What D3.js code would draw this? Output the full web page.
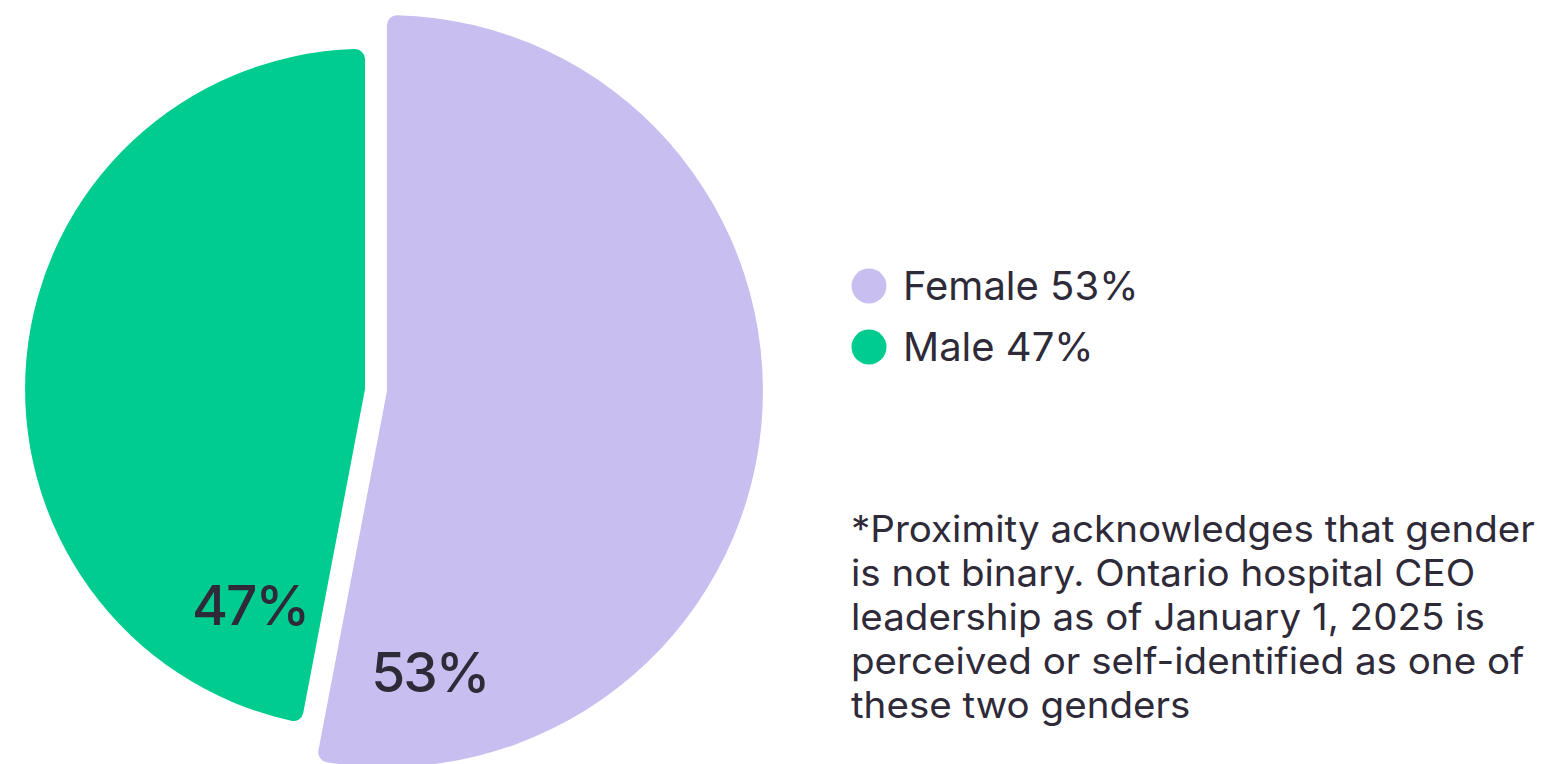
<!DOCTYPE html>
<html>
<head>
<meta charset="utf-8">
<script src="https://cdn.jsdelivr.net/npm/d3@7"></script>
<style>
  html, body { margin: 0; padding: 0; background: #ffffff; }
  svg { display: block; }
  text { font-family: Inter, "Noto Sans", sans-serif; fill: #2E2A38; }
</style>
</head>
<body>
<svg id="chart" width="1542" height="764"></svg>
<script>
// ---- data ----
const categories = ["Female", "Male"];
const values = [53, 47];
const colors = ["#C8BFF0", "#00CC90"];
const legendLabels = ["Female 53%", "Male 47%"];
const sliceLabels = ["53%", "47%"];
const footnoteLines = [
  "*Proximity acknowledges that gender",
  "is not binary. Ontario hospital CEO",
  "leadership as of January 1, 2025 is",
  "perceived or self-identified as one of",
  "these two genders"
];

// ---- layout ----
const svg = d3.select("#chart");
const cx = 376, cy = 390;
const explode = 11;
const radiusFor = i => (i === 0 ? 376 : 340);
const labelPolar = [ {a: 171.3, r: 284}, {a: 208, r: 245} ];

const pie = d3.pie().sort(null).value(d => d)(values);

const g = svg.append("g");
pie.forEach((d, i) => {
  const mid = (d.startAngle + d.endAngle) / 2;
  const ox = cx + explode * Math.sin(mid);
  const oy = cy - explode * Math.cos(mid);
  const arc = d3.arc().innerRadius(0).outerRadius(radiusFor(i)).cornerRadius(10);
  const sg = g.append("g").attr("transform", `translate(${ox},${oy})`);
  sg.append("path").attr("d", arc(d)).attr("fill", colors[i]);
  const la = labelPolar[i].a * Math.PI / 180;
  sg.append("text")
    .attr("x", labelPolar[i].r * Math.sin(la))
    .attr("y", -labelPolar[i].r * Math.cos(la))
    .attr("dy", "0.36em")
    .attr("text-anchor", "middle")
    .attr("font-size", 55)
    .attr("font-weight", 500)
    .attr("letter-spacing", -2)
    .text(sliceLabels[i]);
});

// ---- legend ----
const legend = svg.append("g").attr("transform", "translate(869,286)");
categories.forEach((c, i) => {
  const row = legend.append("g").attr("transform", `translate(0,${i * 61})`);
  row.append("circle").attr("r", 17.5).attr("fill", colors[i]);
  row.append("text")
    .attr("x", 34)
    .attr("dy", "0.36em")
    .attr("font-size", 40)
    .text(legendLabels[i]);
});

// ---- footnote ----
const foot = svg.append("g");
const ft = foot.selectAll("text").data(footnoteLines).join("text")
  .attr("x", 0)
  .attr("y", (d, i) => i * 44)
  .attr("font-size", 37)
  .text(d => d);
const w0 = ft.nodes()[0].getComputedTextLength();
const sx = 684 / w0;
foot.attr("transform", `translate(851,542) scale(${sx},1)`);
</script>
</body>
</html>
